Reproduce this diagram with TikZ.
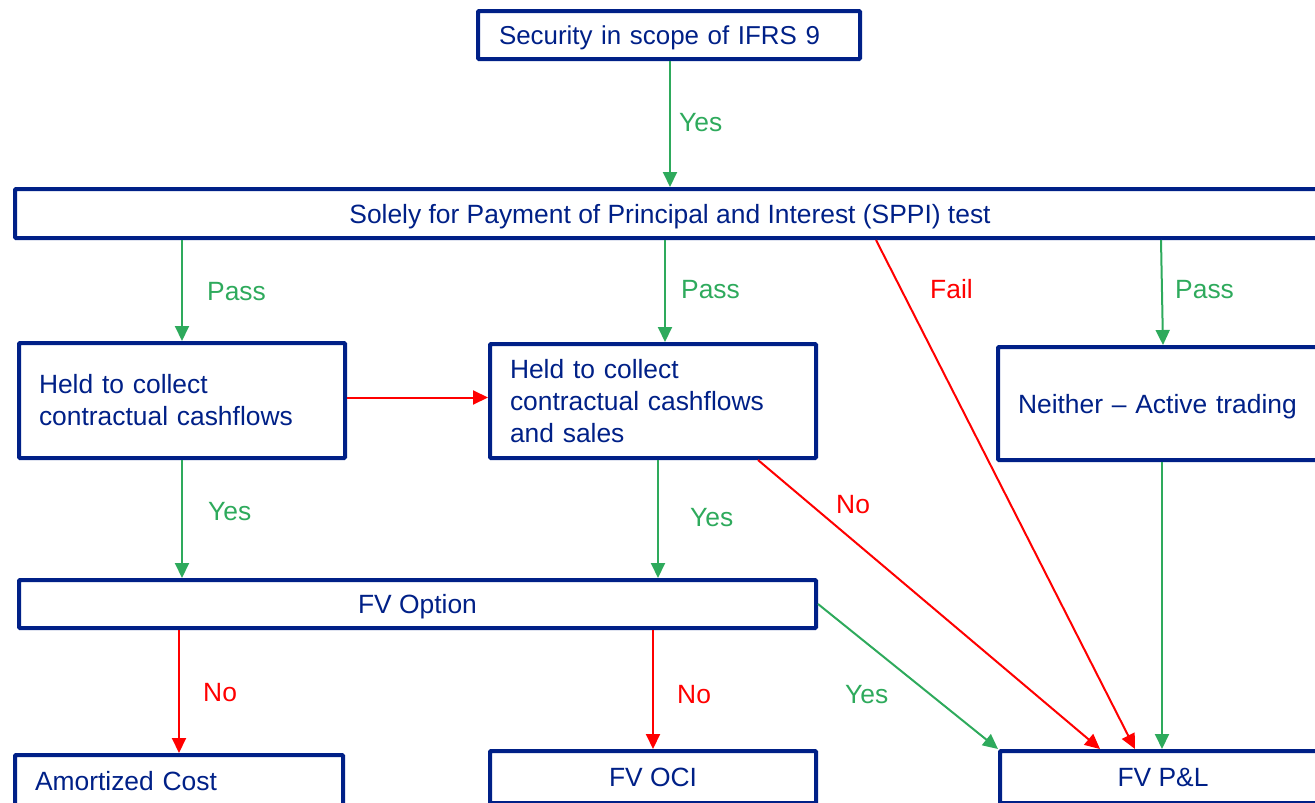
\documentclass[tikz,border=0pt]{standalone}
\usepackage{fontspec}
\setmainfont{Liberation Sans}
\usetikzlibrary{arrows.meta}
\definecolor{navy}{RGB}{0,32,135}
\definecolor{okgreen}{RGB}{46,170,92}
\definecolor{nored}{RGB}{255,0,0}
\begin{document}
\begin{tikzpicture}[x=1pt,y=-1pt,
  every node/.style={font=\fontsize{26.4}{32}\selectfont},
  box/.style={draw=navy, line width=4pt, text=navy, inner ysep=0pt, rounded corners=1pt},
  lbox/.style={box, align=left, inner xsep=18pt},
  cbox/.style={box, align=center, inner xsep=0pt},
  oneline/.style={text height=19pt, text depth=0pt},
  garrow/.style={draw=okgreen, line width=2pt, -{Triangle[length=15pt,width=14pt]}},
  rarrow/.style={draw=nored, line width=2pt, -{Triangle[length=15pt,width=14pt]}},
  glab/.style={text=okgreen, anchor=base west, inner sep=0pt},
  rlab/.style={text=nored, anchor=base west, inner sep=0pt}]
\useasboundingbox (0,0) rectangle (1315,803);

% boxes
\node[lbox, oneline, minimum width=382pt, minimum height=48pt, text width=340pt, font=\fontsize{25.9}{32}\selectfont] (top) at (669,35) {Security in scope of IFRS 9};
\node[cbox, oneline, minimum width=1310pt, minimum height=49pt] (sppi) at (670,213.5) {Solely for Payment of Principal and Interest (SPPI) test};
\node[lbox, minimum width=326pt, minimum height=115pt, text width=286pt] (held1) at (182,400.5) {Held to collect\\contractual cashflows};
\node[lbox, minimum width=326pt, minimum height=114pt, text width=286pt] (held2) at (653,401) {Held to collect\\contractual cashflows\\and sales};
\node[lbox, oneline, minimum width=332pt, minimum height=113pt, text width=292pt] (neither) at (1164,403.5) {Neither – Active trading};
\node[cbox, oneline, minimum width=797pt, minimum height=48pt] (fvopt) at (417.5,604) {FV Option};
\node[lbox, oneline, minimum width=328pt, minimum height=52pt, text width=288pt] (amort) at (179,781) {Amortized Cost};
\node[cbox, oneline, minimum width=326pt, minimum height=52pt] (fvoci) at (653,777) {FV OCI};
\node[cbox, oneline, minimum width=326pt, minimum height=52pt] (fvpl) at (1163,777) {FV P\&L};

% connectors
\draw[garrow] ([xshift=1pt]top.south) -- ([xshift=1pt]top.south |- sppi.north);
\draw[garrow] (held1.north |- sppi.south) -- (held1.north);
\draw[garrow] ([xshift=12pt]held2.north |- sppi.south) -- ([xshift=12pt]held2.north);
\draw[rarrow] ([xshift=206pt]sppi.south) -- ([xshift=-28pt]fvpl.north);
\draw[garrow] ([xshift=-3pt]neither.north |- sppi.south) -- ([xshift=-1pt]neither.north);
\draw[rarrow] ([yshift=3pt]held1.east) -- ([yshift=3pt]held2.west |- held1.east);
\draw[garrow] (held1.south) -- (fvopt.north -| held1.south);
\draw[garrow] ([xshift=5pt]held2.south) -- ([xshift=5pt]fvopt.north -| held2.south);
\draw[rarrow] ([xshift=105pt]held2.south) -- ([xshift=-63pt]fvpl.north);
\draw[garrow] ([xshift=-2pt]neither.south) -- ([xshift=-2pt]fvpl.north -| neither.south);
\draw[garrow] (fvopt.east) -- (fvpl.north west);
\draw[rarrow] (amort.north |- fvopt.south) -- (amort.north);
\draw[rarrow] (fvoci.north |- fvopt.south) -- (fvoci.north);

% labels
\node[glab] (l1) at (679,131.5) {Yes};
\node[glab] (l2) at (207,300.5) {Pass};
\node[glab] (l3) at (681,298.5) {Pass};
\node[rlab] (l4) at (930,298.5) {Fail};
\node[glab] (l5) at (1175,298.5) {Pass};
\node[glab] (l6) at (208,520.5) {Yes};
\node[glab] (l7) at (690,526.5) {Yes};
\node[rlab] (l8) at (836,513.5) {No};
\node[glab] (l9) at (845,703.5) {Yes};
\node[rlab] (l10) at (203,701.5) {No};
\node[rlab] (l11) at (677,703.5) {No};
\end{tikzpicture}
\end{document}
